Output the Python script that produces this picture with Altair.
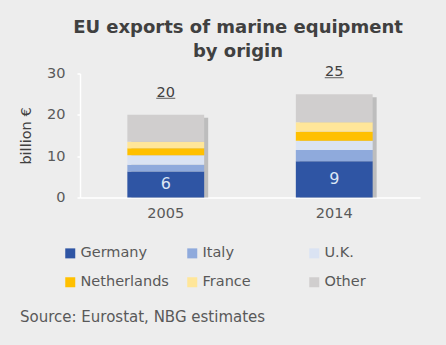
import altair as alt
import pandas as pd

years = ["2005", "2014"]
origins = ["Germany", "Italy", "U.K.", "Netherlands", "France", "Other"]
germany = [6.3, 8.8]
italy = [1.6, 2.7]
uk = [2.3, 2.2]
netherlands = [1.7, 2.2]
france = [1.6, 2.3]
other = [6.5, 6.8]
colors = ["#2f55a4", "#8faadc", "#dae3f3", "#ffc000", "#ffe699", "#d0cece"]
title_lines = ["EU exports of marine equipment", "by origin"]
y_title = "billion €"
source_text = ["Source: Eurostat, NBG estimates"]

series = [germany, italy, uk, netherlands, france, other]
rows = []
for i, o in enumerate(origins):
    for j, yr in enumerate(years):
        rows.append({"year": yr, "origin": o, "idx": i, "value": series[i][j]})
df = pd.DataFrame(rows)

FONT = "DejaVu Sans"
LABEL = "#595959"
DARK = "#404040"

xenc = alt.X(
    "year:N",
    title=None,
    scale=alt.Scale(paddingInner=0.544, paddingOuter=0.281),
    axis=alt.Axis(labelAngle=0, ticks=False, domainColor="white", domainWidth=1.5,
                  labelFontSize=14.5, labelColor=LABEL, labelPadding=9, labelFont=FONT),
)
yscale = alt.Scale(domain=[0, 30], nice=False)

base = alt.Chart(df)
totals_base = base.transform_aggregate(total="sum(value)", groupby=["year"])

shadow = totals_base.mark_bar(color="#9c9c9c", opacity=0.6, xOffset=4, yOffset=3,
                              y2Offset=0).encode(
    x=xenc,
    y=alt.Y("total:Q", scale=yscale),
    y2=alt.datum(0),
)

bars = base.mark_bar().encode(
    x=xenc,
    y=alt.Y("value:Q", stack="zero", scale=yscale,
            axis=alt.Axis(values=[0, 10, 20, 30], title=y_title, grid=False,
                          domainColor="white", domainWidth=1.5, tickColor="white",
                          tickSize=3, tickWidth=1.5, labelFontSize=14.5, labelColor=LABEL,
                          labelPadding=12, labelFont=FONT, titleFont=FONT,
                          titleFontSize=14.5, titleFontWeight="normal", titleColor=DARK,
                          titlePadding=13)),
    color=alt.Color("origin:N", scale=alt.Scale(domain=origins, range=colors),
                    legend=alt.Legend(title=None, orient="none", direction="horizontal",
                                      legendX=-17, legendY=172.5,
                                      columns=3, gridAlign="all", columnPadding=16,
                                      rowPadding=14, symbolType="square", symbolSize=100,
                                      symbolStrokeWidth=0, labelFontSize=14.5,
                                      labelColor=LABEL, labelOffset=3, padding=0,
                                      labelFont=FONT)),
    order=alt.Order("idx:Q", sort="ascending"),
)

inner = base.transform_filter(alt.datum.origin == "Germany").transform_calculate(
    mid="datum.value / 2"
).mark_text(fontSize=16, color="#dde6f5", font=FONT, baseline="middle").encode(
    x=alt.X("year:N"),
    y=alt.Y("mid:Q", scale=yscale),
    text=alt.Text("value:Q", format=".0f"),
)

totals = totals_base.mark_text(fontSize=14.5, color=DARK, font=FONT, dy=-18,
                               baseline="alphabetic").encode(
    x=alt.X("year:N"),
    y=alt.Y("total:Q", scale=yscale),
    text=alt.Text("total:Q", format=".0f"),
)
underline = totals_base.mark_tick(size=19, thickness=1.2, yOffset=-16.5, color=DARK,
                                  orient="horizontal").encode(
    x=alt.X("year:N"),
    y=alt.Y("total:Q", scale=yscale),
)

src = alt.Chart(pd.DataFrame({"t": source_text})).mark_text(
    align="left", baseline="middle", fontSize=15, color=LABEL, font=FONT
).encode(x=alt.value(-60), y=alt.value(243.5), text="t:N")

chart = alt.layer(shadow, bars, inner, totals, underline, src).properties(
    width=340,
    height=124,
    padding={"left": 80, "top": 73.5, "right": 26, "bottom": 147.5},
    autosize="none",
    background="#ededed",
    title=alt.TitleParams(text=title_lines, fontSize=18, font=FONT, fontWeight="bold",
                          color=DARK, anchor="middle", frame="group", dx=-12, offset=3,
                          lineHeight=24),
).configure_view(stroke=None)

chart.save("out.html", embed_options={"renderer": "svg", "actions": False})
